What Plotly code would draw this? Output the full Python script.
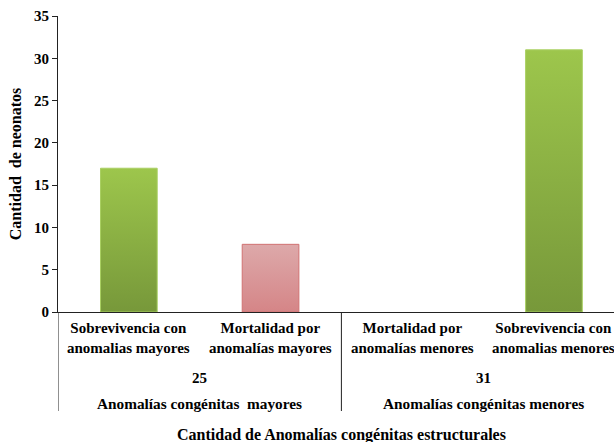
import plotly.graph_objects as go

categories = ["Sobrevivencia con<br>anomalias mayores", "Mortalidad por<br>anomalías mayores",
              "Mortalidad por<br>anomalías menores", "Sobrevivencia con<br>anomalias menores"]
values = [17, 8, 0, 31]
group_labels = ["Anomalías congénitas  mayores", "Anomalías congénitas menores"]
group_totals = ["25", "31"]
y_ticks = [0, 5, 10, 15, 20, 25, 30, 35]

green = ("#77983A", "#9DC64C", "#A9CF62")
red = ("#D58587", "#DDA9AA", "#D07272")
styles = [green, red, red, green]

FONT = "Liberation Serif"
W, H = 614, 442
ML, MT, MB = 58, 16, 130

fig = go.Figure()
half = 0.2
for i, (v, st) in enumerate(zip(values, styles)):
    if v <= 0:
        continue
    xs = [i - half, i + half, i + half, i - half, i - half]
    ys = [0, 0, v, v, 0]
    fig.add_trace(go.Scatter(
        x=xs, y=ys, mode="lines", fill="toself",
        line=dict(color=st[2], width=1),
        fillgradient=dict(type="vertical", colorscale=[[0, st[0]], [1, st[1]]]),
        showlegend=False, hoverinfo="skip"))

x_end = (W - ML) / 141.7 - 0.5
fig.update_layout(
    width=W, height=H,
    margin=dict(l=ML, r=0, t=MT, b=MB),
    paper_bgcolor="white", plot_bgcolor="white",
    font=dict(family=FONT, size=13, color="black"),
    xaxis=dict(range=[-0.5, x_end], showticklabels=False, showgrid=False, zeroline=False,
               showline=True, linecolor="#222", linewidth=1, fixedrange=True),
    yaxis=dict(range=[0, 35], tickvals=y_ticks, ticktext=["<b>%d</b>" % t for t in y_ticks],
               showgrid=False, zeroline=False,
               showline=True, linecolor="#222", linewidth=1, ticks="outside",
               ticklen=5, tickcolor="#222",
               tickfont=dict(family=FONT, size=15),
               title=dict(text="<b>Cantidad  de neonatos</b>", font=dict(family=FONT, size=16),
                          standoff=8)),
)

plot_h = H - MT - MB
ann = []
for i, c in enumerate(categories):
    ann.append(dict(x=i, y=0, xref="x", yref="paper", text="<b>" + c + "</b>", showarrow=False,
                    yanchor="top", yshift=-6, font=dict(family=FONT, size=15)))
for g, (gl, tot) in enumerate(zip(group_labels, group_totals)):
    cx = 2 * g + 0.5
    ann.append(dict(x=cx, y=0, xref="x", yref="paper", text="<b>" + tot + "</b>", showarrow=False,
                    yanchor="middle", yshift=-(378 - (H - MB)), font=dict(family=FONT, size=15)))
    ann.append(dict(x=cx, y=0, xref="x", yref="paper", text="<b>" + gl + "</b>", showarrow=False,
                    yanchor="middle", yshift=-(403 - (H - MB)), font=dict(family=FONT, size=15.3)))
ann.append(dict(x=1.5, y=0, xref="x", yref="paper", text="<b>Cantidad de Anomalías congénitas estructurales</b>",
                showarrow=False, yanchor="middle", yshift=-(435 - (H - MB)), font=dict(family=FONT, size=16)))
fig.update_layout(annotations=ann)

bottom = -(411 - (H - MB)) / plot_h
shapes = []
for xb in [-0.5, 1.5]:
    shapes.append(dict(type="line", xref="x", yref="paper", x0=xb, x1=xb, y0=0, y1=bottom,
                       line=dict(color="#222", width=1)))
fig.update_layout(shapes=shapes)

fig.write_html("out.html")
